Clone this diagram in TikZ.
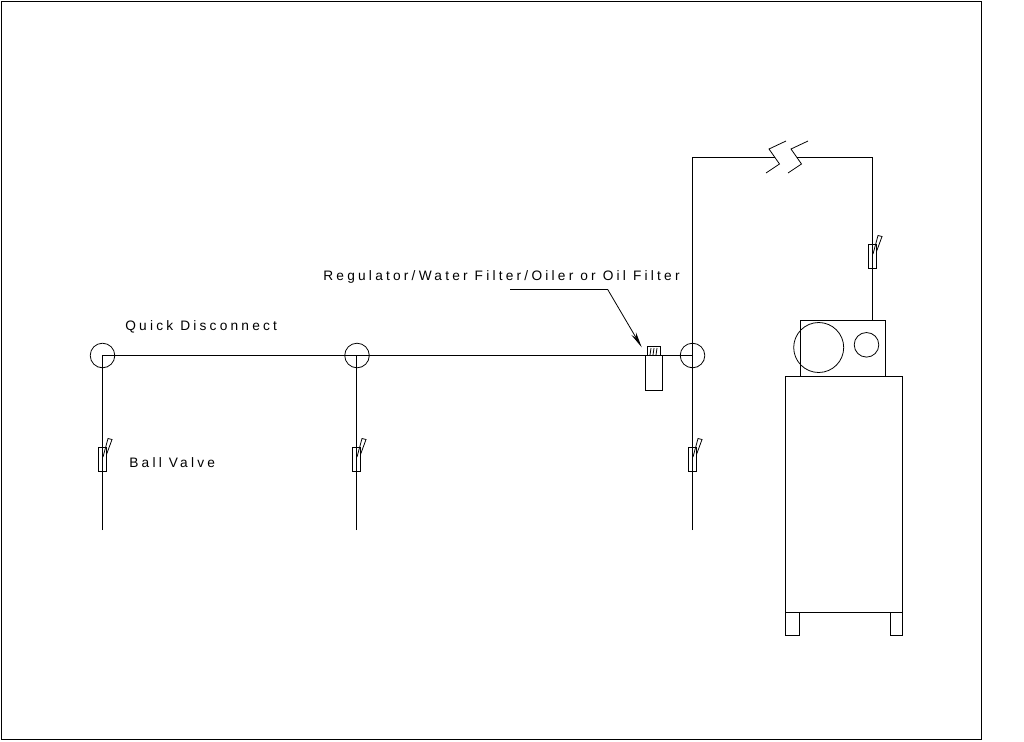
\documentclass[tikz,border=0pt]{standalone}
\usepackage{fontspec}
\usepackage{tikz}
\setmainfont[LetterSpace=23.5]{Liberation Sans}
\usetikzlibrary{arrows.meta}

\tikzset{
  pipe/.style={line width=0.55pt},
  thin line/.style={line width=0.45pt},
  part/.style={draw,line width=0.55pt,inner sep=0pt,outer sep=0pt,anchor=north west},
  disconnect/.style={draw,circle,line width=0.45pt,minimum size=0.492cm,inner sep=0pt,outer sep=0pt},
  valvebody/.style={part,thin line,minimum width=0.16cm,minimum height=0.47cm},
  cadtext/.style={inner sep=0pt,anchor=base west,font=\fontsize{7.8}{9}\selectfont}
}

\begin{document}
\begin{tikzpicture}[x=0.02cm,y=-0.02cm]
  \useasboundingbox (0,0) rectangle (1024,741);
  \draw[pipe] (1.5,1.5) rectangle (981.5,739.5);

  % quick disconnects
  \foreach \n/\x in {a/102.5,b/357,c/692.5}
    \node[disconnect] (qd\n) at (\x,355.5) {};

  % ball valves on the drops
  \foreach \n/\x/\y in {a/102.5/447.5,b/356.5/447.5,c/692.5/447.5,d/872.5/244.5} {
    \node[valvebody] (valve\n) at (\x-4,\y) {};
    \draw[thin line] (\x+0.5,\y+9.5) -- (\x+5.5,\y-9) -- (\x+9.5,\y-8) -- (\x+4,\y+7);
  }
  \coordinate (enda) at (102.5,530);
  \coordinate (endb) at (356.5,530);
  \coordinate (endc) at (692.5,530);
  \coordinate (cornerl) at (692.5,157.5);
  \coordinate (cornerr) at (872.5,157.5);
  \coordinate (breakl) at (775,157.5);
  \coordinate (breakr) at (797,157.5);

  % compressor
  \node[part,minimum width=1.7cm,minimum height=1.12cm] (head) at (800.5,320.5) {};
  \node[part,minimum width=2.34cm,minimum height=4.72cm] (tank) at (785.5,376.5) {};
  \node[part,minimum width=0.27cm,minimum height=0.46cm] (footl) at (785.5,612.5) {};
  \node[part,minimum width=0.24cm,minimum height=0.46cm] (footr) at (890.5,612.5) {};
  \node[disconnect,minimum size=1cm] (motor) at (818.7,347.5) {};
  \node[disconnect] (gauge) at (866.5,344.8) {};

  % filter
  \node[part,minimum width=0.33cm,minimum height=0.70cm] (filter) at (645.5,355.5) {};
  \node[part,thin line,minimum width=0.25cm,minimum height=0.175cm] (filtertop) at (647.5,346.8) {};
  \foreach \x in {651,654,657}
    \draw[thin line] (\x,348) -- (\x-1,355);

  % pipes
  \draw[pipe] (enda) -- (qda.center) -- (qdb.center |- qda.center) -- (qdc.center);
  \draw[pipe] (endb) -- (356.5,355.5);
  \draw[pipe] (endc) -- (cornerl) -- (breakl);
  \draw[pipe] (breakr) -- (cornerr) -- (head.north -| cornerr);

  % break marks
  \foreach \x in {0,22}
    \draw[thin line] (786+\x,141) -- (769+\x,149) -- (779.5+\x,164) -- (766+\x,173);

  % labels
  \node[cadtext] (lblqd) at (125,330) {Quick Disconnect};
  \node[cadtext] (lblbv) at (129,467) {Ball Valve};
  \node[cadtext] (lblfilter) at (323,280) {Regulator/Water Filter/Oiler or Oil Filter};
  \coordinate (leadstart) at (510,289.5);
  \coordinate (leadknee) at (607.7,289.5);
  \coordinate (leadtip) at (641.7,347.3);
  \draw[thin line,-{Stealth[length=9pt,width=3pt]}] (leadstart) -- (leadknee) -- (leadtip);
\end{tikzpicture}
\end{document}
